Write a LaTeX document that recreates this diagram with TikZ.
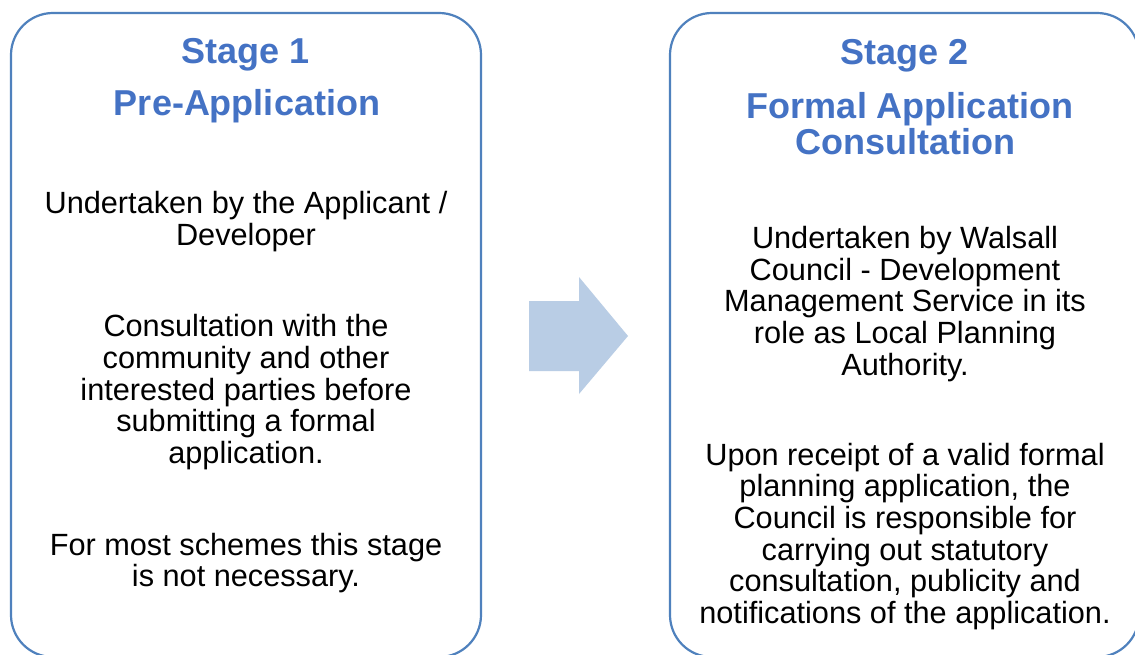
\documentclass[tikz,border=0pt]{standalone}
\usepackage{fontspec}
\setmainfont{Liberation Sans}
\definecolor{boxline}{RGB}{79,129,189}
\definecolor{titleblue}{RGB}{68,114,196}
\definecolor{arrowfill}{RGB}{185,205,229}
\begin{document}
\begin{tikzpicture}[x=1pt,y=-1pt,
  stagebox/.style={draw=boxline,line width=2.2pt,rounded corners=42pt,fill=none},
  titletext/.style={anchor=base,inner sep=0pt,text=titleblue,font=\fontsize{36}{37}\selectfont\bfseries},
  bodytext/.style={anchor=base,inner sep=0pt,text=black,font=\fontsize{30.7}{31.7}\selectfont}]
\useasboundingbox (0,0) rectangle (1135,655);
\fill[white] (0,0) rectangle (1135,655);
% boxes
\draw[stagebox] (11,13) rectangle (481,657);
\draw[stagebox] (670,13) rectangle (1139,657);
% arrow
\fill[arrowfill] (529,301) -- (579,301) -- (579,277) -- (628,336) -- (579,394) -- (579,371) -- (529,371) -- cycle;
% stage 1
\node[titletext] (t1a) at (246,64) {Stage 1};
\node[titletext] (t1b) at (247,115.7) {Pre-Application};
\node[bodytext] (a1) at (246,214) {Undertaken by the Applicant /};
\node[bodytext] (a2) at (246,245) {Developer};
\node[bodytext] (b1) at (246,336.7) {Consultation with the};
\node[bodytext] (b2) at (246,368.3) {community and other};
\node[bodytext] (b3) at (246,400) {interested parties before};
\node[bodytext] (b4) at (246,431.7) {submitting a formal};
\node[bodytext] (b5) at (246,463.3) {application.};
\node[bodytext] (c1a) at (246,555) {For most schemes this stage};
\node[bodytext] (c1b) at (246,586.7) {is not necessary.};
% stage 2
\node[titletext] (t2a) at (905,65) {Stage 2};
\node[titletext] (t2b) at (910,119) {Formal Application};
\node[titletext] (t2c) at (905,155) {Consultation};
\node[bodytext] (d1) at (905,248.3) {Undertaken by Walsall};
\node[bodytext] (d2) at (905,280) {Council - Development};
\node[bodytext] (d3) at (905,311.7) {Management Service in its};
\node[bodytext] (d4) at (905,343.3) {role as Local Planning};
\node[bodytext] (d5) at (905,375) {Authority.};
\node[bodytext] (e1) at (905,465) {Upon receipt of a valid formal};
\node[bodytext] (e2) at (905,496.7) {planning application, the};
\node[bodytext] (e3) at (905,528.3) {Council is responsible for};
\node[bodytext] (e4) at (905,560) {carrying out statutory};
\node[bodytext] (e5) at (905,591.7) {consultation, publicity and};
\node[bodytext] (e6) at (905,623.3) {notifications of the application.};
\end{tikzpicture}
\end{document}
